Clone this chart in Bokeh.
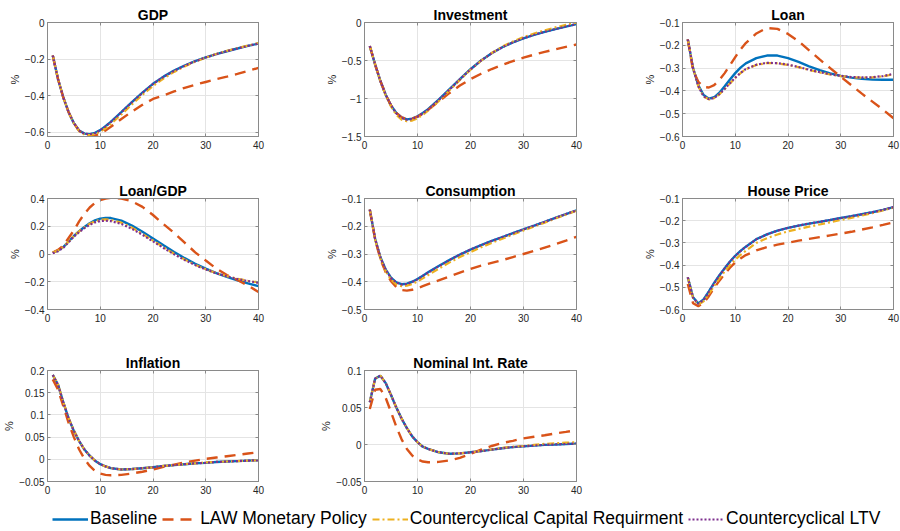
from bokeh.plotting import figure
from bokeh.layouts import row, column
from bokeh.models import Range1d, FixedTicker, LinearAxis, Legend, LegendItem, Spacer, CustomLabelingPolicy
from bokeh.embed import file_html
from bokeh.resources import INLINE

# ---------------- data ----------------
quarters = [1, 2, 3, 4, 5, 6, 7, 8, 9, 10, 11, 12, 14, 16, 18, 20, 22, 24, 26, 28, 30, 32, 34, 36, 38, 40]

series_names = ["Baseline", "LAW Monetary Policy", "Countercyclical Capital Requirment", "Countercyclical LTV"]

gdp_base = [-0.18, -0.31, -0.41, -0.49, -0.55, -0.59, -0.607, -0.61, -0.603, -0.588, -0.567, -0.543, -0.49, -0.435, -0.383, -0.335, -0.296, -0.263, -0.235, -0.211, -0.191, -0.173, -0.157, -0.142, -0.128, -0.115]
gdp_law = [-0.18, -0.31, -0.41, -0.49, -0.55, -0.592, -0.612, -0.62, -0.618, -0.607, -0.59, -0.57, -0.527, -0.487, -0.45, -0.418, -0.398, -0.377, -0.357, -0.34, -0.325, -0.31, -0.296, -0.281, -0.265, -0.248]
gdp_ccr = [-0.18, -0.31, -0.41, -0.49, -0.552, -0.594, -0.612, -0.615, -0.61, -0.597, -0.578, -0.555, -0.503, -0.448, -0.395, -0.347, -0.306, -0.27, -0.24, -0.214, -0.192, -0.172, -0.155, -0.14, -0.126, -0.112]
gdp_ltv = [-0.18, -0.31, -0.41, -0.49, -0.55, -0.591, -0.608, -0.611, -0.604, -0.589, -0.568, -0.544, -0.491, -0.436, -0.384, -0.336, -0.297, -0.264, -0.236, -0.212, -0.191, -0.173, -0.157, -0.142, -0.128, -0.115]

inv_base = [-0.31, -0.55, -0.77, -0.95, -1.09, -1.19, -1.25, -1.275, -1.265, -1.235, -1.19, -1.14, -1.015, -0.88, -0.745, -0.615, -0.5, -0.405, -0.326, -0.262, -0.208, -0.163, -0.124, -0.088, -0.054, -0.022]
inv_law = [-0.31, -0.55, -0.77, -0.95, -1.09, -1.19, -1.25, -1.27, -1.265, -1.24, -1.2, -1.15, -1.04, -0.93, -0.83, -0.745, -0.675, -0.612, -0.557, -0.508, -0.463, -0.423, -0.387, -0.353, -0.321, -0.29]
inv_ccr = [-0.31, -0.55, -0.775, -0.96, -1.105, -1.215, -1.28, -1.3, -1.29, -1.26, -1.215, -1.16, -1.035, -0.895, -0.755, -0.622, -0.503, -0.402, -0.318, -0.25, -0.193, -0.145, -0.103, -0.065, -0.031, -0.002]
inv_ltv = [-0.31, -0.55, -0.77, -0.95, -1.09, -1.195, -1.255, -1.28, -1.27, -1.24, -1.195, -1.145, -1.02, -0.884, -0.748, -0.617, -0.5, -0.404, -0.325, -0.261, -0.207, -0.162, -0.123, -0.087, -0.053, -0.021]

loan_base = [-0.174, -0.3, -0.375, -0.418, -0.434, -0.428, -0.408, -0.38, -0.35, -0.322, -0.298, -0.279, -0.256, -0.245, -0.245, -0.256, -0.273, -0.292, -0.309, -0.323, -0.334, -0.342, -0.347, -0.35, -0.351, -0.351]
loan_law = [-0.174, -0.31, -0.36, -0.383, -0.385, -0.375, -0.352, -0.322, -0.287, -0.252, -0.218, -0.19, -0.148, -0.124, -0.128, -0.15, -0.182, -0.222, -0.262, -0.3, -0.338, -0.375, -0.412, -0.447, -0.482, -0.52]
loan_ccr = [-0.174, -0.3, -0.38, -0.425, -0.437, -0.432, -0.415, -0.392, -0.367, -0.343, -0.322, -0.305, -0.286, -0.278, -0.279, -0.286, -0.296, -0.308, -0.319, -0.328, -0.335, -0.34, -0.342, -0.341, -0.336, -0.327]
loan_ltv = [-0.174, -0.3, -0.38, -0.424, -0.436, -0.431, -0.414, -0.391, -0.366, -0.342, -0.321, -0.304, -0.285, -0.277, -0.278, -0.285, -0.295, -0.307, -0.318, -0.327, -0.334, -0.339, -0.341, -0.34, -0.335, -0.325]

lgdp_base = [0.01, 0.025, 0.05, 0.09, 0.13, 0.165, 0.195, 0.222, 0.242, 0.255, 0.26, 0.259, 0.24, 0.205, 0.16, 0.112, 0.063, 0.015, -0.03, -0.07, -0.106, -0.138, -0.165, -0.19, -0.212, -0.232]
lgdp_law = [0.01, 0.03, 0.06, 0.115, 0.17, 0.235, 0.29, 0.335, 0.368, 0.388, 0.4, 0.405, 0.4, 0.38, 0.34, 0.281, 0.215, 0.152, 0.082, 0.012, -0.047, -0.105, -0.152, -0.187, -0.227, -0.274]
lgdp_ccr = [0.01, 0.025, 0.05, 0.09, 0.13, 0.163, 0.192, 0.218, 0.236, 0.247, 0.25, 0.247, 0.226, 0.19, 0.145, 0.097, 0.048, 0.002, -0.04, -0.078, -0.11, -0.137, -0.16, -0.178, -0.193, -0.205]
lgdp_ltv = [0.005, 0.02, 0.045, 0.085, 0.125, 0.158, 0.186, 0.21, 0.228, 0.238, 0.24, 0.237, 0.217, 0.182, 0.138, 0.091, 0.043, -0.002, -0.043, -0.08, -0.112, -0.139, -0.161, -0.18, -0.195, -0.207]

cons_base = [-0.14, -0.245, -0.312, -0.356, -0.385, -0.402, -0.409, -0.407, -0.4, -0.39, -0.378, -0.366, -0.343, -0.322, -0.302, -0.284, -0.268, -0.253, -0.239, -0.225, -0.211, -0.198, -0.184, -0.17, -0.156, -0.143]
cons_law = [-0.14, -0.248, -0.318, -0.366, -0.398, -0.419, -0.43, -0.432, -0.429, -0.423, -0.416, -0.409, -0.395, -0.381, -0.367, -0.354, -0.342, -0.332, -0.322, -0.311, -0.3, -0.289, -0.277, -0.265, -0.252, -0.238]
cons_ccr = [-0.14, -0.248, -0.317, -0.362, -0.392, -0.41, -0.416, -0.414, -0.408, -0.399, -0.388, -0.376, -0.353, -0.331, -0.311, -0.293, -0.276, -0.26, -0.245, -0.23, -0.215, -0.201, -0.187, -0.172, -0.158, -0.144]
cons_ltv = [-0.14, -0.245, -0.312, -0.357, -0.386, -0.403, -0.41, -0.408, -0.401, -0.391, -0.379, -0.367, -0.344, -0.322, -0.302, -0.284, -0.268, -0.253, -0.239, -0.225, -0.211, -0.198, -0.184, -0.17, -0.156, -0.143]

house_base = [-0.455, -0.545, -0.573, -0.555, -0.518, -0.48, -0.446, -0.414, -0.384, -0.358, -0.336, -0.317, -0.283, -0.262, -0.245, -0.232, -0.222, -0.213, -0.205, -0.197, -0.188, -0.18, -0.171, -0.162, -0.151, -0.139]
house_law = [-0.485, -0.572, -0.585, -0.57, -0.54, -0.503, -0.47, -0.44, -0.412, -0.388, -0.37, -0.355, -0.334, -0.319, -0.308, -0.299, -0.29, -0.282, -0.274, -0.266, -0.258, -0.25, -0.24, -0.23, -0.219, -0.207]
house_ccr = [-0.455, -0.548, -0.578, -0.563, -0.53, -0.494, -0.46, -0.428, -0.4, -0.375, -0.354, -0.336, -0.3, -0.279, -0.262, -0.248, -0.237, -0.227, -0.217, -0.207, -0.197, -0.187, -0.177, -0.166, -0.154, -0.141]
house_ltv = [-0.455, -0.546, -0.574, -0.557, -0.52, -0.482, -0.447, -0.415, -0.385, -0.359, -0.337, -0.318, -0.284, -0.262, -0.245, -0.232, -0.222, -0.213, -0.205, -0.197, -0.188, -0.18, -0.171, -0.162, -0.151, -0.139]

infl_base = [0.19, 0.168, 0.128, 0.092, 0.064, 0.041, 0.022, 0.008, -0.003, -0.011, -0.016, -0.02, -0.023, -0.022, -0.02, -0.018, -0.015, -0.013, -0.011, -0.009, -0.008, -0.006, -0.005, -0.004, -0.003, -0.002]
infl_law = [0.18, 0.157, 0.12, 0.082, 0.05, 0.022, 0.001, -0.015, -0.026, -0.032, -0.035, -0.036, -0.035, -0.032, -0.028, -0.023, -0.017, -0.012, -0.007, -0.003, 0.001, 0.004, 0.007, 0.01, 0.013, 0.016]
infl_ccr = [0.19, 0.169, 0.129, 0.093, 0.065, 0.041, 0.022, 0.008, -0.003, -0.011, -0.016, -0.02, -0.023, -0.022, -0.02, -0.018, -0.015, -0.013, -0.011, -0.009, -0.007, -0.006, -0.005, -0.004, -0.003, -0.002]
infl_ltv = [0.19, 0.168, 0.128, 0.092, 0.064, 0.041, 0.022, 0.008, -0.003, -0.011, -0.016, -0.02, -0.023, -0.022, -0.02, -0.018, -0.015, -0.013, -0.011, -0.009, -0.008, -0.006, -0.005, -0.004, -0.003, -0.002]

rate_base = [0.057, 0.089, 0.093, 0.083, 0.067, 0.05, 0.035, 0.022, 0.011, 0.003, -0.003, -0.006, -0.0105, -0.0125, -0.012, -0.0105, -0.009, -0.007, -0.005, -0.0035, -0.0025, -0.0015, -0.0005, 0.0, 0.0007, 0.0012]
rate_law = [0.048, 0.074, 0.075, 0.063, 0.044, 0.024, 0.007, -0.006, -0.015, -0.02, -0.023, -0.024, -0.0235, -0.0215, -0.018, -0.0128, -0.007, -0.002, 0.002, 0.005, 0.0083, 0.0105, 0.0125, 0.015, 0.017, 0.0195]
rate_ccr = [0.057, 0.089, 0.093, 0.083, 0.067, 0.05, 0.035, 0.022, 0.011, 0.003, -0.003, -0.006, -0.0105, -0.0125, -0.012, -0.0105, -0.0088, -0.0066, -0.0045, -0.003, -0.002, -0.0005, 0.0008, 0.0018, 0.0025, 0.003]
rate_ltv = [0.057, 0.089, 0.093, 0.083, 0.067, 0.05, 0.035, 0.022, 0.011, 0.003, -0.003, -0.006, -0.0105, -0.0125, -0.012, -0.0105, -0.009, -0.007, -0.005, -0.0035, -0.0025, -0.0015, -0.0005, 0.0, 0.0007, 0.0012]

panel_titles = ["GDP", "Investment", "Loan", "Loan/GDP", "Consumption", "House Price", "Inflation", "Nominal Int. Rate"]
panel_ylims = [(-0.623, 0.0), (-1.5, 0.0), (-0.6, -0.1), (-0.4, 0.4), (-0.5, -0.1), (-0.6, -0.1), (-0.05, 0.2), (-0.05, 0.1)]
panel_yticks = [[-0.6, -0.4, -0.2, 0], [-1.5, -1, -0.5, 0], [-0.6, -0.5, -0.4, -0.3, -0.2, -0.1],
                [-0.4, -0.2, 0, 0.2, 0.4], [-0.5, -0.4, -0.3, -0.2, -0.1], [-0.6, -0.5, -0.4, -0.3, -0.2, -0.1],
                [-0.05, 0, 0.05, 0.1, 0.15, 0.2], [-0.05, 0, 0.05, 0.1]]
x_ticks = [0, 10, 20, 30, 40]
panel_data = [
    (gdp_base, gdp_law, gdp_ccr, gdp_ltv),
    (inv_base, inv_law, inv_ccr, inv_ltv),
    (loan_base, loan_law, loan_ccr, loan_ltv),
    (lgdp_base, lgdp_law, lgdp_ccr, lgdp_ltv),
    (cons_base, cons_law, cons_ccr, cons_ltv),
    (house_base, house_law, house_ccr, house_ltv),
    (infl_base, infl_law, infl_ccr, infl_ltv),
    (rate_base, rate_law, rate_ccr, rate_ltv),
]

# ---------------- styles ----------------
COLORS = ["#0072BD", "#D95319", "#EDB120", "#7E2F8E"]
DASHES = ["solid", "11 7", "7 3 2 3", "2 2"]
WIDTHS = [2.4, 2.4, 2.2, 2.2]
AX = "#8a8a8a"
TXT = "#262626"
FONT = "Liberation Sans"

COLS = [(308, 47, 50), (300, 56, 32), (292, 74, 7)]      # width, border left, border right
ROWS = [(180, 22, 44), (172, 14, 43), (145, 15, 16)]     # height, border top, border bottom

NO_LABELS = """
try {
  if (typeof indices.size === "number") {
    return new indices.constructor(indices.size, 0);
  }
} catch (e) {}
try {
  for (const i of Array.from(indices)) { indices.unset(i); }
} catch (e) {}
return indices;
"""


def make_panel(i):
    c, r = i % 3, i // 3
    w, bl, br = COLS[c]
    h, bt, bb = ROWS[r]
    lo, hi = panel_ylims[i]
    p = figure(width=w, height=h, output_backend="svg", toolbar_location=None,
               x_range=Range1d(0, 40), y_range=Range1d(lo, hi),
               min_border_left=bl, min_border_right=br, min_border_top=bt, min_border_bottom=bb,
               title=panel_titles[i])
    p.title.text_font = FONT
    p.title.text_font_size = "14px"
    p.title.text_font_style = "bold"
    p.title.text_color = "#000000"
    p.title.align = "center"
    p.title.standoff = 0
    p.title.offset = 0
    p.background_fill_color = "white"
    p.border_fill_color = "white"
    p.outline_line_color = AX
    p.outline_line_width = 1
    p.xaxis.ticker = FixedTicker(ticks=x_ticks)
    p.yaxis.ticker = FixedTicker(ticks=panel_yticks[i])
    for ax in (p.xaxis[0], p.yaxis[0]):
        ax.axis_line_color = AX
        ax.major_tick_line_color = AX
        ax.major_tick_in = 3
        ax.major_tick_out = 0
        ax.minor_tick_in = 0
        ax.minor_tick_out = 0
        ax.major_label_text_font = FONT
        ax.major_label_text_font_size = "10px"
        ax.major_label_text_color = TXT
    p.xaxis.major_label_standoff = 4
    p.yaxis.major_label_standoff = 3
    p.yaxis.axis_label = "%"
    p.yaxis.axis_label_text_font = FONT
    p.yaxis.axis_label_text_font_size = "11px"
    p.yaxis.axis_label_text_font_style = "normal"
    p.yaxis.axis_label_text_color = TXT
    p.yaxis.axis_label_standoff = 1
    p.xgrid.grid_line_color = "#e4e4e4"
    p.ygrid.grid_line_color = "#e4e4e4"
    # mirrored ticks on top / right (box style), without labels
    for side, tk in (("above", x_ticks), ("right", panel_yticks[i])):
        ax = LinearAxis(ticker=FixedTicker(ticks=tk), major_label_text_font_size="0px",
                        major_label_policy=CustomLabelingPolicy(code=NO_LABELS),
                        major_label_standoff=0, axis_line_color=AX, major_tick_line_color=AX,
                        major_tick_in=3, major_tick_out=0, minor_tick_in=0, minor_tick_out=0)
        p.add_layout(ax, side)
    for k in range(4):
        p.line(quarters, panel_data[i][k], line_color=COLORS[k], line_dash=DASHES[k],
               line_width=WIDTHS[k])
    return p


panels = [make_panel(i) for i in range(8)]

# legend strip
lg = figure(width=900, height=32, output_backend="svg", toolbar_location=None,
            x_axis_type=None, y_axis_type=None, min_border=0,
            x_range=Range1d(0, 1), y_range=Range1d(0, 1))
lg.outline_line_color = None
lg.xgrid.visible = False
lg.ygrid.visible = False
items = []
for k in range(4):
    rr = lg.line([5, 6], [5, 6], line_color=COLORS[k], line_dash=DASHES[k], line_width=WIDTHS[k])
    items.append(LegendItem(label=series_names[k], renderers=[rr]))
legend = Legend(items=items, orientation="horizontal", location=(52, 0),
                glyph_width=36, glyph_height=20, label_standoff=2, spacing=5,
                padding=0, margin=0, border_line_color=None, background_fill_alpha=0,
                label_text_font=FONT, label_text_font_size="17.5px",
                label_text_color="#000000", label_height=20)
lg.add_layout(legend)

layout = column(
    row(panels[0], panels[1], panels[2]),
    row(panels[3], panels[4], panels[5]),
    row(panels[6], panels[7], Spacer(width=292, height=145)),
    lg,
)

open("out.html", "w").write(file_html(layout, INLINE))
